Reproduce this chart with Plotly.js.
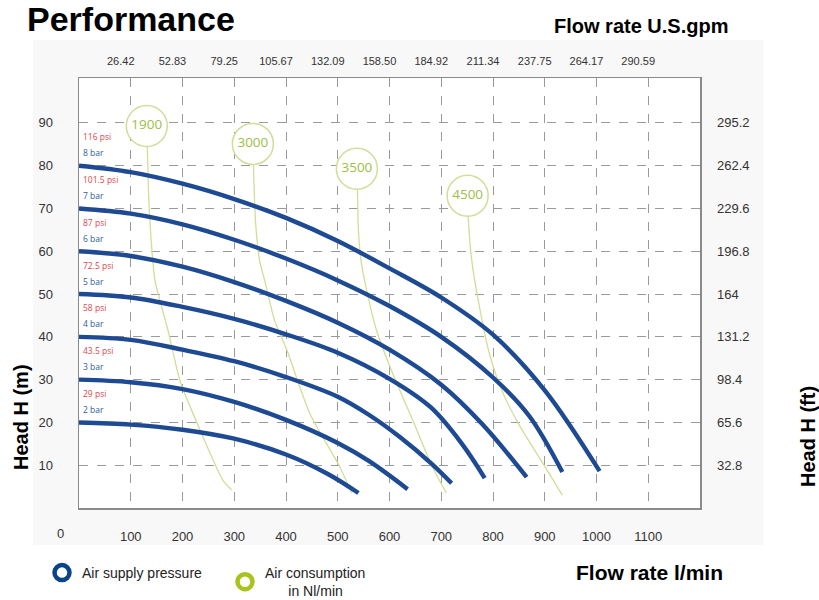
<!DOCTYPE html>
<html>
<head>
<meta charset="utf-8">
<script src="https://cdn.plot.ly/plotly-3.0.1.min.js"></script>
<style>html,body{margin:0;padding:0;background:#fff}#chart{width:819px;height:600px}</style>
</head>
<body>
<div id="chart"></div>
<script>
// ---- tick labels ----
const flowTicks = [100, 200, 300, 400, 500, 600, 700, 800, 900, 1000, 1100];
const gpmTicks = [26.42, 52.83, 79.25, 105.67, 132.09, 158.50, 184.92, 211.34, 237.75, 264.17, 290.59];
const gpmTickText = ['26.42', '52.83', '79.25', '105.67', '132.09', '158.50', '184.92', '211.34', '237.75', '264.17', '290.59'];
const headTicks = [10, 20, 30, 40, 50, 60, 70, 80, 90];
const feetTicks = [32.8, 65.6, 98.4, 131.2, 164, 196.8, 229.6, 262.4, 295.2];
const feetTickText = ['32.8', '65.6', '98.4', '131.2', '164', '196.8', '229.6', '262.4', '295.2'];

// ---- air supply pressure curves (flow l/min, head m) ----
const pressureBar = ['2 bar', '3 bar', '4 bar', '5 bar', '6 bar', '7 bar', '8 bar'];
const pressurePsi = ['29 psi', '43.5 psi', '58 psi', '72.5 psi', '87 psi', '101.5 psi', '116 psi'];
const flow2bar = [0, 100, 200, 300, 400, 480, 540];
const head2bar = [20, 19.5, 18.3, 16.2, 12.5, 8, 3.5];
const flow3bar = [0, 100, 200, 300, 400, 500, 560, 635];
const head3bar = [30, 29.4, 27.8, 24.8, 20.6, 15.2, 11, 4.4];
const flow4bar = [0, 100, 200, 300, 400, 500, 560, 620, 680, 720];
const head4bar = [40, 39.3, 37, 34.3, 30.6, 26, 21.8, 16.6, 10.5, 5.8];
const flow5bar = [0, 100, 200, 300, 400, 500, 600, 680, 740, 784];
const head5bar = [50, 49.2, 47, 44.2, 40.6, 36.3, 30.2, 23.5, 15, 7];
const flow6bar = [0, 100, 200, 300, 400, 500, 600, 700, 780, 865];
const head6bar = [60, 58.9, 56.4, 52.8, 48.4, 43.3, 37, 28.8, 19.5, 7.2];
const flow7bar = [0, 100, 200, 300, 400, 500, 600, 700, 800, 870, 934];
const head7bar = [70, 68.8, 66.3, 62.7, 58.3, 53.2, 47.2, 40, 30.5, 21.5, 8.4];
const flow8bar = [0, 100, 200, 300, 400, 500, 600, 700, 800, 900, 1006];
const head8bar = [80, 78.5, 75.8, 72.2, 67.8, 62.4, 56, 49.2, 40.5, 27.5, 8.6];

// ---- air consumption lines (Nl/min) ----
const airLabels = ['1900', '3000', '3500', '4500'];
const airFlow1900 = [131, 133, 135, 141, 147, 172, 195, 234, 278, 295];
const airHead1900 = [89.3, 80, 71.8, 60.1, 53.1, 41.5, 29.8, 18.2, 6.5, 4.2];
const airFlow3000 = [336, 337, 341, 349, 359, 378, 402, 446, 504, 527];
const airHead3000 = [85.1, 80.4, 67.1, 57.8, 53.1, 43.8, 36.8, 22.1, 9.6, 3.5];
const airFlow3500 = [537, 538, 540, 545, 552, 575, 606, 645, 683, 710];
const airHead3500 = [79.3, 74.6, 64.8, 57.8, 53.1, 41.5, 31.5, 20.5, 9.6, 3.5];
const airFlow4500 = [751, 752, 759, 774, 793, 817, 851, 896, 934];
const airHead4500 = [73, 68.3, 57.8, 46.9, 36.1, 27.5, 19.3, 10.5, 3.0];

const BLUE = '#1d4a93';
const GREEN_LINE = '#d0de98';
const GREEN_TEXT = '#9cc047';
const FONT = 'Liberation Sans, Arial, sans-serif';

const pFlows = [flow2bar, flow3bar, flow4bar, flow5bar, flow6bar, flow7bar, flow8bar];
const pHeads = [head2bar, head3bar, head4bar, head5bar, head6bar, head7bar, head8bar];
const aFlows = [airFlow1900, airFlow3000, airFlow3500, airFlow4500];
const aHeads = [airHead1900, airHead3000, airHead3500, airHead4500];

const traces = [];
aFlows.forEach((f, i) => {
  traces.push({x: f, y: aHeads[i], mode: 'lines', type: 'scatter', showlegend: false,
    line: {color: GREEN_LINE, width: 1.3, shape: 'spline', smoothing: 0.6}, hoverinfo: 'skip'});
});
pFlows.forEach((f, i) => {
  traces.push({x: f, y: pHeads[i], mode: 'lines', type: 'scatter', showlegend: false,
    name: pressureBar[i], line: {color: BLUE, width: 4.4, shape: 'spline', smoothing: 1}});
});
traces.push({
  x: aFlows.map(f => f[0]), y: aHeads.map(h => h[0]), text: airLabels,
  mode: 'markers+text', type: 'scatter', textposition: 'middle center', showlegend: false,
  textfont: {family: 'Open Sans, sans-serif', size: 13.5, color: GREEN_TEXT},
  marker: {symbol: 'circle', size: 41, color: '#ffffff', line: {color: GREEN_LINE, width: 1.5}}
});
traces.push({x: [null], y: [null], mode: 'markers', type: 'scatter', name: 'Air supply pressure',
  marker: {symbol: 'circle-open', size: 15, color: '#0b4486', line: {width: 4.5, color: '#0b4486'}}});
traces.push({x: [null], y: [null], mode: 'markers', type: 'scatter', name: 'Air consumption<br>      in Nl/min',
  marker: {symbol: 'circle-open', size: 15, color: '#a9c31c', line: {width: 4.5, color: '#a9c31c'}}});
traces.push({x: [null], y: [null], xaxis: 'x2', yaxis: 'y', showlegend: false, hoverinfo: 'skip', mode: 'lines'});
traces.push({x: [null], y: [null], xaxis: 'x', yaxis: 'y2', showlegend: false, hoverinfo: 'skip', mode: 'lines'});

const L = 79, R = 700, T = 78, B = 508;
const px = v => (v - L) / (R - L);
const py = v => (B - v) / (B - T);

const annotations = [];
pressureBar.forEach((b, i) => {
  annotations.push({x: 0, y: pHeads[i][0], xref: 'x', yref: 'y', text: pressurePsi[i], showarrow: false,
    xanchor: 'left', yanchor: 'middle', xshift: 2, yshift: 29, font: {family: 'Open Sans, sans-serif', size: 8.5, color: '#e0474c'}});
  annotations.push({x: 0, y: pHeads[i][0], xref: 'x', yref: 'y', text: b, showarrow: false,
    xanchor: 'left', yanchor: 'middle', xshift: 2, yshift: 13, font: {family: 'Open Sans, sans-serif', size: 8.5, color: '#2e5d9f'}});
});
annotations.push({x: 0, y: 0, xref: 'x', yref: 'y', text: '0', showarrow: false, xanchor: 'center', yanchor: 'top',
  xshift: -19, yshift: -16, font: {family: FONT, size: 13, color: '#333'}});
annotations.push({x: px(730), y: py(26), xref: 'paper', yref: 'paper', text: '<b>Flow rate U.S.gpm</b>',
  showarrow: false, xanchor: 'right', yanchor: 'middle', font: {family: FONT, size: 20, color: '#000'}});
annotations.push({x: px(725), y: py(572), xref: 'paper', yref: 'paper', text: '<b>Flow rate l/min</b>',
  showarrow: false, xanchor: 'right', yanchor: 'middle', font: {family: FONT, size: 21, color: '#000'}});
annotations.push({x: px(21), y: py(417), xref: 'paper', yref: 'paper', text: '<b>Head H (m)</b>', textangle: -90,
  showarrow: false, xanchor: 'center', yanchor: 'middle', font: {family: FONT, size: 20, color: '#000'}});
annotations.push({x: px(808), y: py(437), xref: 'paper', yref: 'paper', text: '<b>Head H (ft)</b>', textangle: -90,
  showarrow: false, xanchor: 'center', yanchor: 'middle', font: {family: FONT, size: 20, color: '#000'}});

const gridStyle = {showgrid: true, gridcolor: '#9a9a9a', gridwidth: 1, griddash: 'dash'};

const layout = {
  width: 819, height: 600,
  margin: {l: L, r: 819 - R, t: T, b: 600 - B, pad: 0, autoexpand: false},
  paper_bgcolor: '#ffffff', plot_bgcolor: '#ffffff',
  font: {family: FONT, color: '#333'},
  title: {text: '<b>Performance</b>', font: {family: FONT, size: 34, color: '#000'},
    x: 27 / 819, xref: 'container', xanchor: 'left', y: 1 - 19 / 600, yref: 'container', yanchor: 'middle'},
  xaxis: Object.assign({range: [0, 1200], tickvals: flowTicks, ticktext: flowTicks.map(String),
    zeroline: false, showline: true, mirror: true, linecolor: '#8a8a8a', linewidth: 1.5,
    ticks: '', ticklabelstandoff: 16, tickfont: {size: 13, color: '#333'}}, gridStyle),
  xaxis2: {overlaying: 'x', side: 'top', anchor: 'y', range: [0, 1200 / 3.785], tickvals: gpmTicks, ticktext: gpmTickText,
    showgrid: false, zeroline: false, showline: false, ticks: '', ticklabelshift: -10, ticklabelstandoff: 10,
    tickfont: {size: 11, color: '#333'}},
  yaxis: Object.assign({range: [0, 100.5], tickvals: headTicks, ticktext: headTicks.map(String),
    zeroline: false, showline: true, mirror: true, linecolor: '#8a8a8a', linewidth: 1.5,
    ticks: '', ticklabelstandoff: 22, tickfont: {size: 13, color: '#333'}}, gridStyle),
  yaxis2: {overlaying: 'y', side: 'right', anchor: 'x', range: [0, 100.5 * 3.28], tickvals: feetTicks, ticktext: feetTickText,
    showgrid: false, zeroline: false, showline: false, ticks: '', ticklabelstandoff: 16,
    tickfont: {size: 13, color: '#333'}},
  legend: {orientation: 'h', x: px(42), y: py(557), xanchor: 'left', yanchor: 'top',
    font: {family: FONT, size: 14, color: '#222'}, entrywidth: 138, entrywidthmode: 'pixels',
    bgcolor: 'rgba(0,0,0,0)', itemsizing: 'trace'},
  shapes: [{type: 'rect', xref: 'paper', yref: 'paper', x0: px(33), x1: px(763), y0: py(545), y1: py(40),
    fillcolor: '#f8f8f8', line: {width: 0}, layer: 'below'},
    {type: 'rect', xref: 'paper', yref: 'paper', x0: 0, x1: 1, y0: 0, y1: 1,
    fillcolor: '#ffffff', line: {width: 0}, layer: 'below'}],
  annotations: annotations,
  showlegend: true
};

Plotly.newPlot('chart', traces, layout, {displayModeBar: false, staticPlot: true});
</script>
</body>
</html>
